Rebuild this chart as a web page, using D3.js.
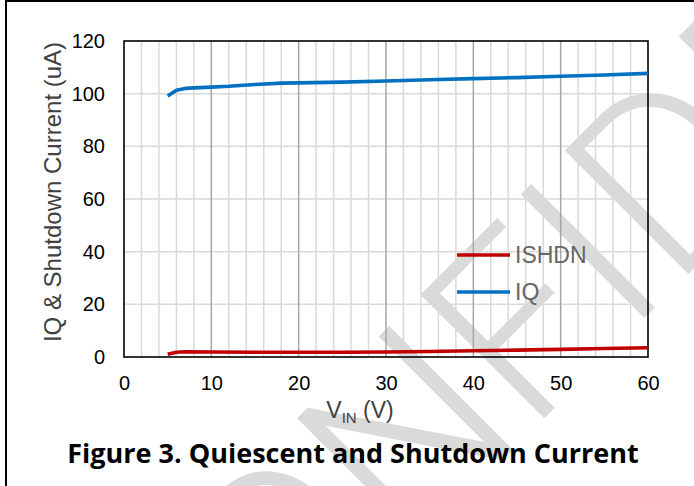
<!DOCTYPE html>
<html>
<head>
<meta charset="utf-8">
<script src="https://cdn.jsdelivr.net/npm/d3@7"></script>
<style>
  html, body { margin: 0; padding: 0; background: #fff; }
  svg { display: block; }
</style>
</head>
<body>
<svg id="chart" width="694" height="486"></svg>
<script>
// ---- data ----
const vinIQ = [5, 6, 7, 8, 10, 12, 15, 18, 20, 25, 30, 35, 40, 45, 50, 55, 60];
const iqValues = [99.1, 101.3, 102.0, 102.2, 102.5, 102.8, 103.5, 104.0, 104.1, 104.4, 104.8, 105.3, 105.7, 106.1, 106.6, 107.1, 107.7];
const vinSHDN = [5, 6, 7, 10, 15, 20, 25, 30, 35, 40, 45, 50, 55, 60];
const shdnValues = [1.0, 1.8, 2.0, 1.9, 1.8, 1.8, 1.8, 1.9, 2.1, 2.4, 2.6, 2.9, 3.2, 3.5];
const xTicks = [0, 10, 20, 30, 40, 50, 60];
const yTicks = [0, 20, 40, 60, 80, 100, 120];
const seriesNames = ["ISHDN", "IQ"];
const seriesColors = ["#C00000", "#0070C0"];
const captionText = "Figure 3. Quiescent and Shutdown Current";
const yTitle = "IQ & Shutdown Current (uA)";
const watermarkText = "CONFIDENTIAL";

const svg = d3.select("#chart");
svg.append("rect").attr("width", 694).attr("height", 486).attr("fill", "#fff");

// ---- watermark ----
const wmSize = 246, capH = 175;
const wmG = svg.append("g");
const wmT = wmG.append("text").text(watermarkText)
  .attr("x", 0).attr("y", 0)
  .style("font-family", "Roboto, Inter, 'DejaVu Sans', sans-serif")
  .style("font-weight", 300)
  .style("font-size", wmSize + "px")
  .attr("fill", "#dadada");
let aF = 0;
try { aF = wmT.node().getStartPositionOfChar(3).x; } catch (e) { aF = 2.2 * wmSize; }
aF += 0.07 * wmSize;
const c = Math.SQRT1_2;
const P = [417, 298];
const Ox = P[0] - aF * c + capH * c;
const Oy = P[1] + aF * c + capH * c;
wmG.attr("transform", `translate(${Ox},${Oy}) rotate(-45)`);

// ---- scales ----
const x = d3.scaleLinear().domain([0, 60]).range([124, 648]);
const y = d3.scaleLinear().domain([0, 120]).range([357, 41]);

// ---- gridlines ----
const minorX = d3.range(2, 60, 2).filter(v => v % 10 !== 0);
const majorX = xTicks.filter(v => v > 0 && v < 60);
const grid = svg.append("g");
grid.selectAll("line.hy").data(yTicks.filter(v => v > 0 && v < 120)).join("line")
  .attr("x1", x(0)).attr("x2", x(60)).attr("y1", d => y(d)).attr("y2", d => y(d))
  .attr("stroke", "#d9d9d9").attr("stroke-width", 1.5);
grid.selectAll("line.mx").data(minorX).join("line")
  .attr("y1", y(0)).attr("y2", y(120)).attr("x1", d => x(d)).attr("x2", d => x(d))
  .attr("stroke", "#d9d9d9").attr("stroke-width", 1.5);
grid.selectAll("line.Mx").data(majorX).join("line")
  .attr("y1", y(0)).attr("y2", y(120)).attr("x1", d => x(d)).attr("x2", d => x(d))
  .attr("stroke", "#a6a6a6").attr("stroke-width", 1.5);

// plot frame
svg.append("rect").attr("x", x(0)).attr("y", y(120))
  .attr("width", x(60) - x(0)).attr("height", y(0) - y(120))
  .attr("fill", "none").attr("stroke", "#000").attr("stroke-width", 1.6);

// ---- axes ----
const tickFont = "'Liberation Sans', Arial, sans-serif";
const yAxis = svg.append("g").attr("transform", `translate(${x(0)},0)`)
  .call(d3.axisLeft(y).tickValues(yTicks).tickSize(0).tickPadding(19));
const xAxis = svg.append("g").attr("transform", `translate(0,${y(0)})`)
  .call(d3.axisBottom(x).tickValues(xTicks).tickSize(0).tickPadding(19));
[yAxis, xAxis].forEach(g => {
  g.select(".domain").remove();
  g.selectAll("text").style("font-family", tickFont).style("font-size", "20px").attr("fill", "#000");
});

// ---- lines ----
const lineGen = d3.line().x(d => x(d[0])).y(d => y(d[1]));
const seriesData = [
  d3.zip(vinSHDN, shdnValues),
  d3.zip(vinIQ, iqValues)
];
svg.selectAll("path.series").data(seriesData).join("path")
  .attr("class", "series")
  .attr("d", lineGen)
  .attr("fill", "none")
  .attr("stroke", (d, i) => seriesColors[i])
  .attr("stroke-width", 3.6)
  .attr("stroke-linejoin", "round")
  .attr("stroke-linecap", "butt");

// ---- legend ----
const legend = svg.append("g").attr("transform", "translate(457,255)");
const items = legend.selectAll("g").data(seriesNames).join("g")
  .attr("transform", (d, i) => `translate(0,${i * 37})`);
items.append("line").attr("x1", 0).attr("x2", 53).attr("y1", 0).attr("y2", 0)
  .attr("stroke", (d, i) => seriesColors[i]).attr("stroke-width", 3.6);
items.append("text").attr("x", 58).attr("y", 0).attr("dy", "0.36em").text(d => d)
  .style("font-family", "'Liberation Sans Narrow', 'Liberation Sans', Arial, sans-serif")
  .style("font-size", "23px").attr("fill", "#666");

// ---- axis titles ----
svg.append("text")
  .attr("transform", "translate(61,192) rotate(-90)")
  .attr("text-anchor", "middle")
  .style("font-family", tickFont).style("font-size", "24px").attr("fill", "#404040")
  .text(yTitle);

const xt = svg.append("text").attr("x", 360).attr("y", 418).attr("text-anchor", "middle")
  .style("font-family", tickFont).style("font-size", "23px").attr("fill", "#404040");
xt.append("tspan").text("V");
xt.append("tspan").attr("dy", 5).style("font-size", "15px").text("IN");
xt.append("tspan").attr("dy", -5).text(" (V)");

// ---- caption ----
svg.append("text").attr("x", 353).attr("y", 463).attr("text-anchor", "middle")
  .style("font-family", "'Open Sans', 'Noto Sans', sans-serif").style("font-weight", 700)
  .style("font-size", "27px").attr("fill", "#000")
  .text(captionText);

// ---- outer frame (top & left visible) ----
svg.append("path").attr("d", "M6,700 L6,1 L700,1")
  .attr("fill", "none").attr("stroke", "#000").attr("stroke-width", 2);
</script>
</body>
</html>
